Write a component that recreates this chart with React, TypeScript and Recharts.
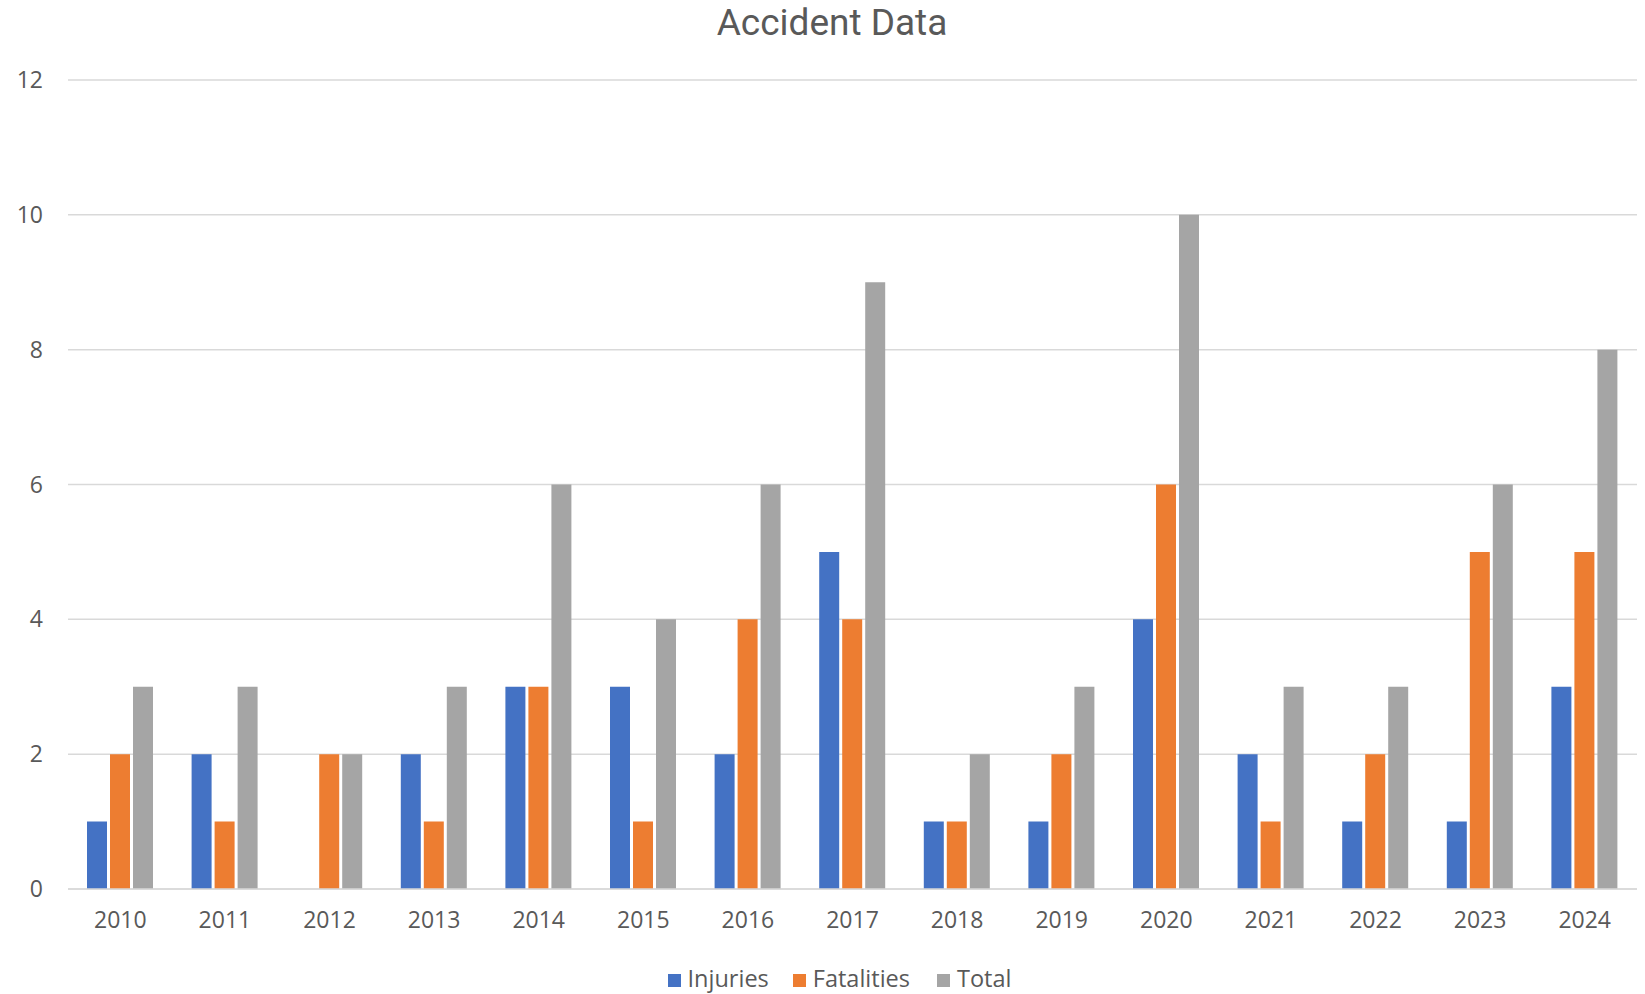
import React from "react";
import { BarChart, Bar, XAxis, YAxis, CartesianGrid } from "recharts";

const years = ["2010","2011","2012","2013","2014","2015","2016","2017","2018","2019","2020","2021","2022","2023","2024"];
const injuries = [1, 2, 0, 2, 3, 3, 2, 5, 1, 1, 4, 2, 1, 1, 3];
const fatalities = [2, 1, 2, 1, 3, 1, 4, 4, 1, 2, 6, 1, 2, 5, 5];
const totals = [3, 3, 2, 3, 6, 4, 6, 9, 2, 3, 10, 3, 3, 6, 8];
const yTicks = [0, 2, 4, 6, 8, 10, 12];

const series = [
  { key: "Injuries", color: "#4472C4" },
  { key: "Fatalities", color: "#ED7D31" },
  { key: "Total", color: "#A5A5A5" },
];

const data = years.map((y, i) => ({
  year: y,
  Injuries: injuries[i],
  Fatalities: fatalities[i],
  Total: totals[i],
}));

const FONT = "'Open Sans', sans-serif";
const TEXT = "#595959";

export default function App() {
  return (
    <div style={{ position: "absolute", left: 0, top: 0, width: 1645, height: 994, background: "#fff", fontFamily: FONT }}>
      <div
        style={{
          position: "absolute",
          left: 832,
          top: 3.5,
          transform: "translateX(-50%)",
          whiteSpace: "nowrap",
          fontFamily: "Roboto, 'Open Sans', sans-serif",
          fontSize: 37,
          lineHeight: "37px",
          color: TEXT,
        }}
      >
        Accident Data
      </div>
      <BarChart
        width={1645}
        height={994}
        data={data}
        margin={{ top: 80, right: 8, left: 0, bottom: 65 }}
        barSize={20}
        barGap={3}
      >
        <CartesianGrid vertical={false} stroke="#d9d9d9" strokeWidth={1.5} />
        <XAxis
          dataKey="year"
          height={40}
          axisLine={{ stroke: "#d9d9d9", strokeWidth: 1.5 }}
          tickLine={false}
          tickSize={0}
          tickMargin={23}
          tick={{ fill: TEXT, fontSize: 23, fontFamily: FONT }}
          interval={0}
        />
        <YAxis
          domain={[0, 12]}
          ticks={yTicks}
          width={68}
          axisLine={false}
          tickLine={false}
          tickSize={0}
          tickMargin={25}
          tick={{ fill: TEXT, fontSize: 23, fontFamily: FONT }}
        />
        {series.map((s) => (
          <Bar key={s.key} dataKey={s.key} fill={s.color} isAnimationActive={false} />
        ))}
      </BarChart>
      <div
        style={{
          position: "absolute",
          left: 0,
          top: 969,
          width: 1679,
          display: "flex",
          justifyContent: "center",
          alignItems: "center",
          fontSize: 23.5,
          lineHeight: "23px",
          color: TEXT,
        }}
      >
        {series.map((s, i) => (
          <div key={s.key} style={{ display: "flex", alignItems: "center", marginLeft: i === 0 ? 0 : i === 1 ? 24 : 27 }}>
            <span style={{ display: "inline-block", width: 13, height: 13, background: s.color, marginRight: 7 }} />
            <span style={{ position: "relative", top: -2 }}>{s.key}</span>
          </div>
        ))}
      </div>
    </div>
  );
}
